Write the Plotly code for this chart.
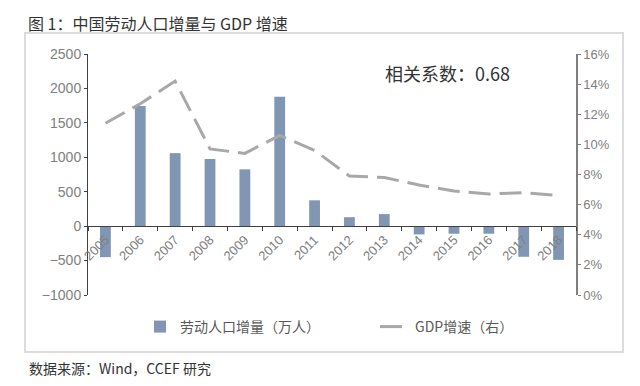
import plotly.graph_objects as go

years = ["2005", "2006", "2007", "2008", "2009", "2010", "2011",
         "2012", "2013", "2014", "2015", "2016", "2017", "2018"]
labor_increase = [-450, 1745, 1060, 975, 825, 1880, 375,
                  130, 175, -120, -110, -110, -445, -490]
gdp_growth = [11.4, 12.7, 14.2, 9.7, 9.4, 10.6, 9.6,
              7.9, 7.8, 7.3, 6.9, 6.7, 6.8, 6.6]

left_ticks = [-1000, -500, 0, 500, 1000, 1500, 2000, 2500]
right_ticks = [0, 2, 4, 6, 8, 10, 12, 14, 16]
right_labels = [f"{v}%" for v in right_ticks]

title_text = "图 1：中国劳动人口增量与 GDP 增速"
source_text = "数据来源：Wind，CCEF 研究"
corr_text = "相关系数：0.68"

FONT = "Liberation Sans, Noto Sans CJK SC, sans-serif"
CJK = "Noto Sans CJK SC, sans-serif"

# page body has an 8px margin; the figure is sized/placed to compensate
OFF = 8
W, H = 640 - OFF, 386 - OFF
PL, PR, PT, PB = 88, 576, 54, 295  # plot area in page pixels


def px(X):
    return (X - PL) / (PR - PL)


def py(Y):
    return (PB - Y) / (PB - PT)


fig = go.Figure()
fig.add_trace(go.Bar(
    x=years, y=labor_increase, name="劳动人口增量（万人）",
    marker=dict(color="#8096B3", line=dict(width=0)),
    width=0.31, yaxis="y",
))
fig.add_trace(go.Scatter(
    x=years, y=gdp_growth, name="GDP增速（右）", mode="lines",
    line=dict(color="#A8A8A8", width=3, dash="22px,9px"),
    yaxis="y2",
))

y_lo, y_hi = left_ticks[0], left_ticks[-1]
zero_pos = (0 - y_lo) / (y_hi - y_lo)

fig.update_layout(
    width=W, height=H,
    margin=dict(l=PL - OFF, r=W - (PR - OFF), t=PT - OFF, b=H - (PB - OFF)),
    paper_bgcolor="white", plot_bgcolor="white",
    font=dict(family=FONT, color="#808080", size=13),
    showlegend=True,
    legend=dict(orientation="h", x=px(140), y=py(327), xanchor="left", yanchor="middle",
                font=dict(family=CJK, size=14, color="#595959"),
                entrywidth=190, entrywidthmode="pixels",
                bgcolor="rgba(0,0,0,0)"),
    xaxis=dict(
        type="category", anchor="free", position=zero_pos,
        showline=True, linecolor="#404040", linewidth=1,
        ticks="outside", ticklen=4, tickcolor="#404040", tickson="boundaries",
        tickangle=-45, tickfont=dict(size=13, color="#808080"),
        showgrid=False, zeroline=False,
    ),
    yaxis=dict(
        range=[y_lo, y_hi], tickvals=left_ticks,
        showline=True, linecolor="#404040", linewidth=1,
        ticks="outside", ticklen=3, tickcolor="#404040",
        tickfont=dict(size=14, color="#808080"),
        showgrid=False, zeroline=False,
    ),
    yaxis2=dict(
        range=[0, 16], tickmode="array", tickvals=right_ticks, ticktext=right_labels,
        overlaying="y", side="right", anchor="x",
        showline=True, linecolor="#7F7F7F", linewidth=1.5,
        ticks="outside", ticklen=3, tickcolor="#7F7F7F",
        tickfont=dict(size=13, color="#808080"),
        showgrid=False, zeroline=False,
    ),
    annotations=[
        dict(text=title_text, xref="paper", yref="paper",
             x=px(26), y=py(9), showarrow=False,
             xanchor="left", yanchor="top",
             font=dict(family=CJK, size=16, color="#333333")),
        dict(text=corr_text, xref="paper", yref="paper",
             x=px(447), y=py(73), showarrow=False,
             xanchor="center", yanchor="middle",
             font=dict(family=CJK, size=18, color="#333333")),
        dict(text=source_text, xref="paper", yref="paper",
             x=px(27), y=py(368), showarrow=False,
             xanchor="left", yanchor="middle",
             font=dict(family=CJK, size=14, color="#333333")),
    ],
    shapes=[
        dict(type="rect", xref="paper", yref="paper",
             x0=px(25), x1=px(623), y0=py(352), y1=py(33),
             line=dict(color="#DCDCDC", width=2), fillcolor="rgba(0,0,0,0)",
             layer="below"),
    ],
)

fig.write_html("out.html")
